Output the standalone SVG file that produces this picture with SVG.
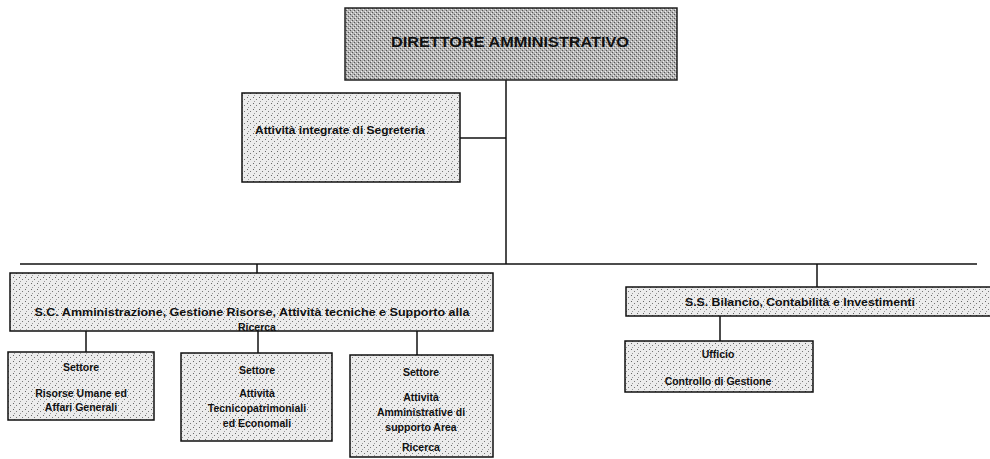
<svg xmlns="http://www.w3.org/2000/svg" width="990" height="459" viewBox="0 0 990 459">
<defs>
<pattern id="dots" width="6" height="6" patternUnits="userSpaceOnUse">
<rect width="6" height="6" fill="#ececec"/>
<rect x="1" y="1" width="1" height="1" fill="#666"/>
<rect x="4" y="3" width="1" height="1" fill="#777"/>
<rect x="2" y="5" width="1" height="1" fill="#999"/>
</pattern>
<pattern id="dark" width="4" height="4" patternUnits="userSpaceOnUse">
<rect width="4" height="4" fill="#b4b4b4"/>
<rect x="0" y="0" width="1" height="1" fill="#555"/>
<rect x="2" y="2" width="1" height="1" fill="#555"/>
<rect x="3" y="1" width="1" height="1" fill="#eee"/>
<rect x="1" y="3" width="1" height="1" fill="#eee"/>
</pattern>
<style>
.box{fill:url(#dots);stroke:#111;stroke-width:1.5}
.top{fill:url(#dark);stroke:#222;stroke-width:1.5}
.t{font-family:"Liberation Sans",Arial,sans-serif;font-size:10.5px;font-weight:bold;fill:#111;text-anchor:middle}
.tl{font-family:"Liberation Sans",Arial,sans-serif;font-size:10.5px;font-weight:bold;fill:#111}
.h{font-family:"Liberation Sans",Arial,sans-serif;font-size:14px;font-weight:bold;fill:#111;text-anchor:middle}
.c{stroke:#111;stroke-width:1.5;fill:none}
</style>
</defs>
<g id="connectors">
<line class="c" x1="506" y1="80" x2="506" y2="264"/>
<line class="c" x1="460" y1="138" x2="506" y2="138"/>
<line class="c" x1="20" y1="264" x2="977" y2="264"/>
<line class="c" x1="257" y1="264" x2="257" y2="273"/>
<line class="c" x1="817" y1="264" x2="817" y2="287"/>
<line class="c" x1="720" y1="316" x2="720" y2="341"/>
<line class="c" x1="86" y1="331" x2="86" y2="352"/>
<line class="c" x1="258" y1="331" x2="258" y2="353"/>
<line class="c" x1="417" y1="331" x2="417" y2="355"/>
</g>
<g id="direttore">
<rect class="top" x="345" y="8" width="332" height="72"/>
<text class="h" x="510" y="47" textLength="238" lengthAdjust="spacingAndGlyphs">DIRETTORE AMMINISTRATIVO</text>
</g>
<g id="segreteria">
<rect class="box" x="242" y="93" width="218" height="89"/>
<text class="tl" x="255" y="134" textLength="170" lengthAdjust="spacingAndGlyphs">Attività integrate di Segreteria</text>
</g>
<g id="sc">
<rect class="box" x="10" y="273" width="483" height="58"/>
<text class="t" x="252" y="316" textLength="435" lengthAdjust="spacingAndGlyphs">S.C. Amministrazione, Gestione Risorse, Attività tecniche e Supporto alla</text>
<text class="t" x="257" y="331">Ricerca</text>
</g>
<g id="ss">
<rect class="box" x="626" y="287" width="370" height="29"/>
<text class="t" x="800" y="306" textLength="230" lengthAdjust="spacingAndGlyphs">S.S. Bilancio, Contabilità e Investimenti</text>
</g>
<g id="ufficio">
<rect class="box" x="625" y="341" width="188" height="51"/>
<text class="t" x="718" y="358">Ufficio</text>
<text class="t" x="718" y="385">Controllo di Gestione</text>
</g>
<g id="settore1">
<rect class="box" x="8" y="352" width="146" height="68"/>
<text class="t" x="81" y="371">Settore</text>
<text class="t" x="81" y="397">Risorse Umane ed</text>
<text class="t" x="81" y="411">Affari Generali</text>
</g>
<g id="settore2">
<rect class="box" x="181" y="353" width="151" height="88"/>
<text class="t" x="257" y="374">Settore</text>
<text class="t" x="257" y="397">Attività</text>
<text class="t" x="257" y="412">Tecnicopatrimoniali</text>
<text class="t" x="257" y="427">ed Economali</text>
</g>
<g id="settore3">
<rect class="box" x="350" y="355" width="143" height="102"/>
<text class="t" x="421" y="376">Settore</text>
<text class="t" x="421" y="401">Attività</text>
<text class="t" x="421" y="416">Amministrative di</text>
<text class="t" x="421" y="431">supporto Area</text>
<text class="t" x="421" y="451">Ricerca</text>
</g>
</svg>
